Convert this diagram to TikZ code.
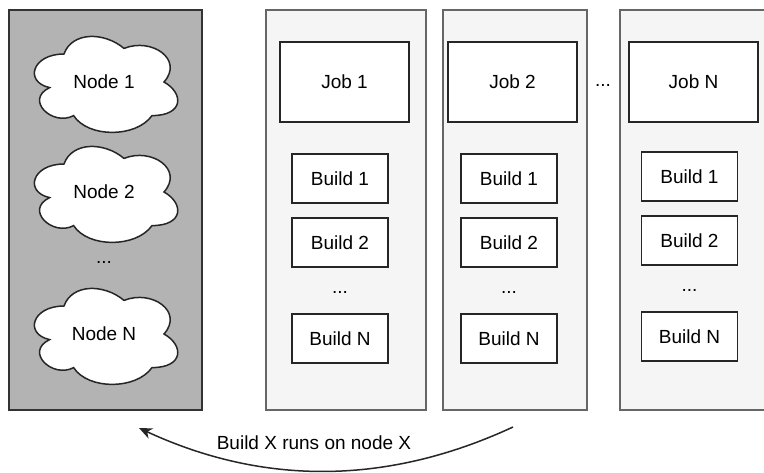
\documentclass[tikz,border=0pt]{standalone}
\usepackage{fontspec}
\setmainfont{Liberation Sans}
\usetikzlibrary{arrows.meta}
\pgfdeclarelayer{bg}
\pgfdeclarelayer{mid}
\pgfsetlayers{bg,mid,main}

\definecolor{panelfill}{HTML}{B3B3B3}
\definecolor{paneldraw}{HTML}{333333}
\definecolor{colfill}{HTML}{F5F5F5}
\definecolor{coldraw}{HTML}{666666}

\tikzset{
  txt/.style={font=\fontsize{19}{22}\selectfont, text=black, inner sep=0pt},
  panel/.style={draw=paneldraw, fill=panelfill, line width=1.5pt, inner sep=0pt},
  column/.style={draw=coldraw, fill=colfill, line width=1.5pt, inner sep=0pt},
  jobbox/.style={txt, draw=black!85, fill=white, line width=1.5pt,
                 minimum width=129pt, minimum height=80pt},
  buildbox/.style={txt, draw=black!85, fill=white, line width=1.5pt,
                   minimum width=96pt, minimum height=49pt},
  cloudline/.style={draw=black!85, fill=white, line width=1.5pt},
  flow/.style={draw=black!85, line width=1.5pt, -{Stealth[length=13pt,width=11pt,inset=4pt]}},
}

% cloud outline around a named node centre, width 160, height 112
\newcommand{\cloudaround}[1]{%
  \begin{pgfonlayer}{mid}
  \begin{scope}[shift={(#1.center)}, xscale=160, yscale=112]
    \path[cloudline] (-0.25,-0.25)
      .. controls (-0.45,-0.25) and (-0.5,0) .. (-0.34,0.05)
      .. controls (-0.5,0.16) and (-0.32,0.4) .. (-0.19,0.3)
      .. controls (-0.1,0.5) and (0.2,0.5) .. (0.3,0.3)
      .. controls (0.5,0.3) and (0.5,0.1) .. (0.375,0)
      .. controls (0.5,-0.2) and (0.3,-0.4) .. (0.125,-0.3)
      .. controls (0,-0.45) and (-0.2,-0.45) .. (-0.25,-0.25) -- cycle;
  \end{scope}
  \end{pgfonlayer}}

\begin{document}
\begin{tikzpicture}[x=1pt, y=-1pt]
  \useasboundingbox (0,0) rectangle (764,472);

  % frames: the nodes panel and the job columns
  \begin{pgfonlayer}{bg}
    \node[panel, minimum width=193pt, minimum height=400pt] (nodes) at (105.5,210) {};
    \node[column, minimum width=160pt, minimum height=400pt] (col1) at (346,210) {};
    \node[column, minimum width=144pt, minimum height=400pt] (col2) at (515,210) {};
    \node[column, minimum width=150pt, minimum height=400pt] (colN) at (695,210) {};
  \end{pgfonlayer}

  % nodes
  \node[txt] (n1) at (104,82) {Node 1};
  \cloudaround{n1}
  \node[txt] (n2) at (104,192) {Node 2};
  \cloudaround{n2}
  \node[txt] (ndots) at (104,262) {...};
  \node[txt] (nN) at (104,334) {Node N};
  \cloudaround{nN}

  % job 1
  \node[jobbox] (job1) at (344.5,82) {Job 1};
  \node[buildbox] (j1b1) at (340,178.5) {Build 1};
  \node[buildbox] (j1b2) at (340,242.5) {Build 2};
  \node[txt] (j1dots) at (340,292) {...};
  \node[buildbox] (j1bN) at (340,338.5) {Build N};

  % job 2
  \node[jobbox] (job2) at (512.5,82) {Job 2};
  \node[buildbox] (j2b1) at (509,178.5) {Build 1};
  \node[buildbox] (j2b2) at (509,242.5) {Build 2};
  \node[txt] (j2dots) at (509,292) {...};
  \node[buildbox] (j2bN) at (509,338.5) {Build N};

  \node[txt] (coldots) at (603,85) {...};

  % job N
  \node[jobbox] (jobN) at (693.5,82) {Job N};
  \node[buildbox] (jNb1) at (689.5,176.5) {Build 1};
  \node[buildbox] (jNb2) at (689.5,240.5) {Build 2};
  \node[txt] (jNdots) at (689.5,290) {...};
  \node[buildbox] (jNbN) at (689.5,336.5) {Build N};

  % builds are scheduled onto nodes
  \coordinate (from) at (513,427);
  \coordinate (to) at (139,428);
  \draw[flow] (from) .. controls (388,485) and (264,486) .. (to);
  \node[txt] (runs) at (314,443) {Build X runs on node X};
\end{tikzpicture}
\end{document}
